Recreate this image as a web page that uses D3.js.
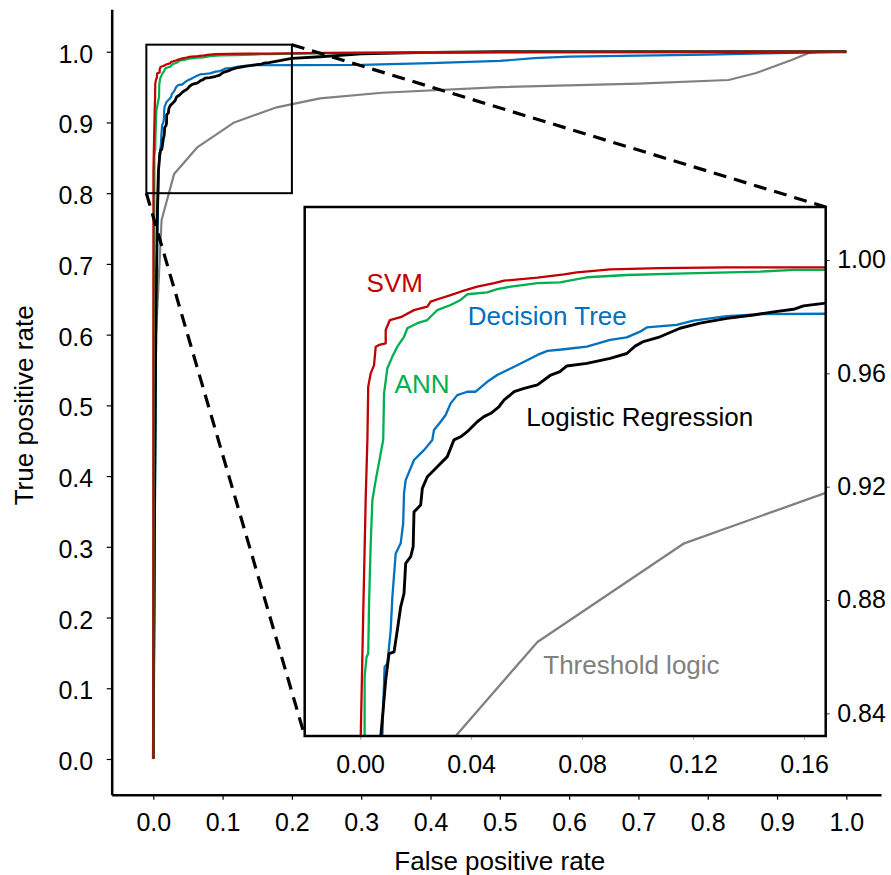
<!DOCTYPE html>
<html>
<head>
<meta charset="utf-8">
<script src="https://cdn.jsdelivr.net/npm/d3@7"></script>
<style>
  body { margin: 0; background: #fff; }
  svg { font-family: "Liberation Sans", Arial, sans-serif; }
</style>
</head>
<body>
<div id="chart"></div>
<script>
// ROC points [false positive rate, true positive rate]
var svm = [[0, 0], [0.0001, 0.5], [0.0002, 0.8317], [0.0011, 0.8753], [0.0020, 0.9164],
  [0.0026, 0.9365], [0.0029, 0.9553], [0.0038, 0.9600], [0.0050, 0.9629], [0.0056, 0.9694],
  [0.0068, 0.9700], [0.0092, 0.9706], [0.0092, 0.9753], [0.0107, 0.9788], [0.0146, 0.9798],
  [0.0194, 0.9823], [0.0242, 0.9835], [0.0254, 0.9853], [0.0290, 0.9865], [0.0326, 0.9876],
  [0.0362, 0.9888], [0.0422, 0.9906], [0.0483, 0.9918], [0.0519, 0.9927], [0.0639, 0.9938],
  [0.0735, 0.9949], [0.0781, 0.9956], [0.0901, 0.9967], [0.1081, 0.9971], [0.1322, 0.9974],
  [0.1670, 0.9974], [0.25, 0.9985], [0.5, 0.9995], [1, 1]];

var ann = [[0, 0], [0.0008, 0.6], [0.0016, 0.8317], [0.0016, 0.8529], [0.0023, 0.8599],
  [0.0029, 0.8611], [0.0032, 0.8788], [0.0038, 0.9000], [0.0044, 0.9153], [0.0050, 0.9188],
  [0.0056, 0.9223], [0.0074, 0.9318], [0.0083, 0.9365], [0.0086, 0.9529], [0.0098, 0.9618],
  [0.0116, 0.9659], [0.0134, 0.9694], [0.0158, 0.9729], [0.0170, 0.9759], [0.0206, 0.9777],
  [0.0242, 0.9788], [0.0260, 0.9806], [0.0278, 0.9823], [0.0326, 0.9841], [0.0362, 0.9859],
  [0.0386, 0.9879], [0.0458, 0.9886], [0.0494, 0.9897], [0.0543, 0.9906], [0.0639, 0.9918],
  [0.0720, 0.9921], [0.0817, 0.9939], [0.0961, 0.9947], [0.1177, 0.9953], [0.1442, 0.9959],
  [0.1562, 0.9965], [0.1670, 0.9965], [0.25, 0.998], [0.4, 0.999], [0.6, 1], [1, 1]];

var tree = [[0, 0], [0.002, 0.3], [0.004, 0.6], [0.006, 0.75], [0.0080, 0.8317],
  [0.0083, 0.8423], [0.0088, 0.8564], [0.0098, 0.8576], [0.0110, 0.8694], [0.0116, 0.8811],
  [0.0128, 0.8964], [0.0146, 0.9000], [0.0155, 0.9070], [0.0158, 0.9176], [0.0164, 0.9223],
  [0.0194, 0.9294], [0.0230, 0.9329], [0.0260, 0.9365], [0.0266, 0.9400], [0.0290, 0.9429],
  [0.0308, 0.9453], [0.0326, 0.9494], [0.0350, 0.9523], [0.0386, 0.9535], [0.0416, 0.9535],
  [0.0458, 0.9570], [0.0494, 0.9594], [0.0555, 0.9623], [0.0591, 0.9641], [0.0639, 0.9665],
  [0.0675, 0.9679], [0.0735, 0.9685], [0.0817, 0.9694], [0.0901, 0.9718], [0.0961, 0.9727],
  [0.1009, 0.9747], [0.1033, 0.9762], [0.1141, 0.9771], [0.1201, 0.9786], [0.1322, 0.9802],
  [0.1442, 0.9809], [0.2, 0.9812], [0.3, 0.9815], [0.4, 0.984], [0.5, 0.987], [0.55, 0.991],
  [0.6, 0.993], [0.8, 0.996], [0.9, 0.998], [1, 1]];

var logistic = [[0, 0], [0.002, 0.4], [0.004, 0.65], [0.006, 0.78], [0.0074, 0.8317],
  [0.0080, 0.8382], [0.0092, 0.8517], [0.0104, 0.8611], [0.0122, 0.8617], [0.0134, 0.8694],
  [0.0146, 0.8776], [0.0158, 0.8823], [0.0164, 0.8929], [0.0182, 0.8953], [0.0191, 0.8988],
  [0.0194, 0.9111], [0.0218, 0.9135], [0.0224, 0.9194], [0.0242, 0.9235], [0.0278, 0.9270],
  [0.0314, 0.9306], [0.0338, 0.9365], [0.0362, 0.9376], [0.0386, 0.9394], [0.0422, 0.9429],
  [0.0446, 0.9447], [0.0471, 0.9459], [0.0500, 0.9482], [0.0519, 0.9506], [0.0555, 0.9535],
  [0.0591, 0.9547], [0.0639, 0.9559], [0.0687, 0.9594], [0.0720, 0.9606], [0.0745, 0.9626],
  [0.0817, 0.9635], [0.0901, 0.9653], [0.0961, 0.9670], [0.0991, 0.9696], [0.1021, 0.9712],
  [0.1081, 0.9729], [0.1153, 0.9759], [0.1225, 0.9777], [0.1322, 0.9794], [0.1418, 0.9806],
  [0.1490, 0.9817], [0.1562, 0.9826], [0.1598, 0.9838], [0.1670, 0.9847], [0.2, 0.9906],
  [0.2405, 0.9929], [0.3, 0.997], [0.4, 0.999], [0.5, 1], [1, 1]];

var threshold = [[0, 0], [0.004, 0.60], [0.012, 0.762], [0.030, 0.827], [0.0639, 0.8652],
  [0.1168, 0.9000], [0.1781, 0.9214], [0.2405, 0.9341], [0.33, 0.942], [0.5, 0.950],
  [0.7, 0.955], [0.83, 0.960], [0.87, 0.970], [0.92, 0.988], [0.945, 0.998], [0.96, 1], [1, 1]];

var seriesNames = ["Threshold logic", "Decision Tree", "Logistic Regression", "ANN", "SVM"];
var seriesData = [threshold, tree, logistic, ann, svm];
var seriesColors = ["#808080", "#0070c0", "#000000", "#00b050", "#c00000"];
var seriesWidths = [2.2, 2.2, 2.8, 2.2, 2.2];

var mainTicks = [0, 0.1, 0.2, 0.3, 0.4, 0.5, 0.6, 0.7, 0.8, 0.9, 1.0];
var insetXTicks = [0, 0.04, 0.08, 0.12, 0.16];
var insetYTicks = [0.84, 0.88, 0.92, 0.96, 1.00];
var zoomBox = { x0: -0.01, x1: 0.2, y0: 0.8, y1: 1.01 };

// label anchors in inset data coords
var labelPos = [[0.066, 0.8539], [0.0388, 0.9771], [0.0599, 0.9414], [0.0124, 0.9530], [0.0023, 0.9888]];

var width = 891, height = 875;
var svg = d3.select("#chart").append("svg")
  .attr("width", width)
  .attr("height", height);

var x = d3.scaleLinear().domain([-0.06, 1.05]).range([111.7, 881]);
var y = d3.scaleLinear().domain([-0.0505, 1.06]).range([794.7, 9.3]);

var ix = d3.scaleLinear().domain([-0.02, 0.1678]).range([304.7, 825.7]);
var iy = d3.scaleLinear().domain([0.832, 1.0187]).range([736, 207]);

// main axes
var xAxis = svg.append("g")
  .attr("transform", "translate(0," + y.range()[0] + ")")
  .call(d3.axisBottom(x).tickValues(mainTicks).tickFormat(d3.format(".1f"))
    .tickSize(5).tickSizeOuter(0).tickPadding(14));
var yAxis = svg.append("g")
  .attr("transform", "translate(" + x.range()[0] + ",0)")
  .call(d3.axisLeft(y).tickValues(mainTicks).tickFormat(d3.format(".1f"))
    .tickSize(5).tickSizeOuter(0).tickPadding(13.5));
[xAxis, yAxis].forEach(function (g) {
  g.select(".domain").attr("stroke", "#000").attr("stroke-width", 2.5);
  g.selectAll(".tick line").attr("stroke", "#000").attr("stroke-width", 1.2);
  g.selectAll("text").attr("font-size", 25).attr("fill", "#000")
    .attr("font-family", "Liberation Sans, Arial, sans-serif");
});
yAxis.selectAll("text").attr("dy", "0.42em");

svg.append("text")
  .attr("x", (x(0) + x(1)) / 2)
  .attr("y", 870)
  .attr("text-anchor", "middle")
  .attr("font-size", 26)
  .text("False positive rate");

svg.append("text")
  .attr("transform", "translate(33," + (y(0) + y(1)) / 2 + ") rotate(-90)")
  .attr("text-anchor", "middle")
  .attr("font-size", 26)
  .text("True positive rate");

// main curves
var line = d3.line().x(d => x(d[0])).y(d => y(d[1]));
svg.append("g").selectAll("path")
  .data(seriesData)
  .enter().append("path")
  .attr("d", line)
  .attr("fill", "none")
  .attr("stroke", (d, i) => seriesColors[i])
  .attr("stroke-width", (d, i) => seriesWidths[i])
  .attr("stroke-linejoin", "round");

// zoom box and connectors
svg.append("rect")
  .attr("x", x(zoomBox.x0))
  .attr("y", y(zoomBox.y1))
  .attr("width", x(zoomBox.x1) - x(zoomBox.x0))
  .attr("height", y(zoomBox.y0) - y(zoomBox.y1))
  .attr("fill", "none")
  .attr("stroke", "#000")
  .attr("stroke-width", 2);

var connectors = [
  [[x(zoomBox.x1), y(zoomBox.y1)], [ix.range()[1], iy.range()[1]]],
  [[x(zoomBox.x0), y(zoomBox.y0)], [ix.range()[0], iy.range()[0]]]
];
svg.append("g").selectAll("line")
  .data(connectors)
  .enter().append("line")
  .attr("x1", d => d[0][0]).attr("y1", d => d[0][1])
  .attr("x2", d => d[1][0]).attr("y2", d => d[1][1])
  .attr("stroke", "#000")
  .attr("stroke-width", 3.2)
  .attr("stroke-dasharray", "13,8");

// inset
var inset = svg.append("g");
inset.append("rect")
  .attr("x", ix.range()[0]).attr("y", iy.range()[1])
  .attr("width", ix.range()[1] - ix.range()[0])
  .attr("height", iy.range()[0] - iy.range()[1])
  .attr("fill", "#fff");

svg.append("clipPath").attr("id", "insetClip")
  .append("rect")
  .attr("x", ix.range()[0]).attr("y", iy.range()[1])
  .attr("width", ix.range()[1] - ix.range()[0])
  .attr("height", iy.range()[0] - iy.range()[1]);

var iline = d3.line().x(d => ix(d[0])).y(d => iy(d[1]));
inset.append("g")
  .attr("clip-path", "url(#insetClip)")
  .selectAll("path")
  .data(seriesData)
  .enter().append("path")
  .attr("d", iline)
  .attr("fill", "none")
  .attr("stroke", (d, i) => seriesColors[i])
  .attr("stroke-width", (d, i) => seriesWidths[i] + 0.1)
  .attr("stroke-linejoin", "round");

var ixAxis = inset.append("g")
  .attr("transform", "translate(0," + iy.range()[0] + ")")
  .call(d3.axisBottom(ix).tickValues(insetXTicks).tickFormat(d3.format(".2f"))
    .tickSize(4).tickSizeOuter(0).tickPadding(15));
var iyAxis = inset.append("g")
  .attr("transform", "translate(" + ix.range()[1] + ",0)")
  .call(d3.axisRight(iy).tickValues(insetYTicks).tickFormat(d3.format(".2f"))
    .tickSize(4).tickSizeOuter(0).tickPadding(7.5));
ixAxis.select(".domain").remove();
iyAxis.select(".domain").remove();
ixAxis.selectAll(".tick line").attr("stroke", "#aaa").attr("stroke-width", 1);
iyAxis.selectAll(".tick line").attr("stroke", "#333").attr("stroke-width", 1);
[ixAxis, iyAxis].forEach(function (g) {
  g.selectAll("text").attr("font-size", 25).attr("fill", "#000")
    .attr("font-family", "Liberation Sans, Arial, sans-serif");
});

inset.append("rect")
  .attr("x", ix.range()[0]).attr("y", iy.range()[1])
  .attr("width", ix.range()[1] - ix.range()[0])
  .attr("height", iy.range()[0] - iy.range()[1])
  .attr("fill", "none")
  .attr("stroke", "#000")
  .attr("stroke-width", 2.5);

inset.append("g").selectAll("text")
  .data(seriesNames)
  .enter().append("text")
  .attr("x", (d, i) => ix(labelPos[i][0]))
  .attr("y", (d, i) => iy(labelPos[i][1]))
  .attr("font-size", 26)
  .attr("fill", (d, i) => seriesColors[i])
  .text(d => d);
</script>
</body>
</html>
